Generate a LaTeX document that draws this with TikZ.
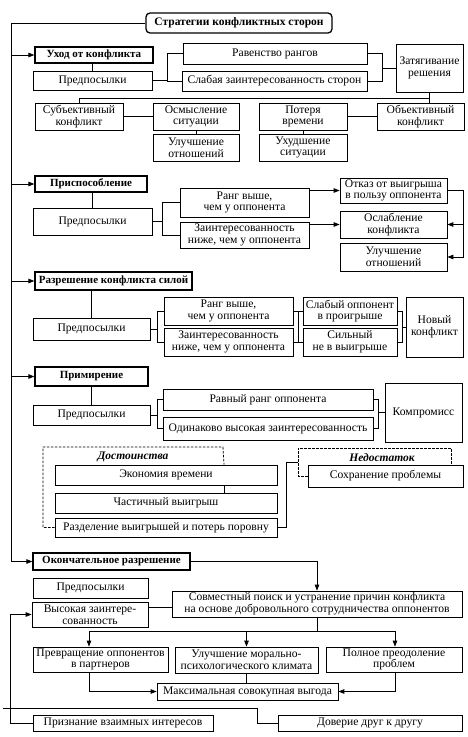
\documentclass[tikz,border=0pt]{standalone}
\usepackage{fontspec}
\setmainfont{Liberation Serif}
\usetikzlibrary{arrows.meta}
\newcommand\mybox[7][]{%
 \pgfmathsetmacro\cxx{(#3+#5)/2}%
 \pgfmathsetmacro\cyy{(#4+#6)/2}%
 \pgfmathsetmacro\ww{#5-#3}%
 \pgfmathsetmacro\hh{#6-#4}%
 \node[box,#1,minimum width=\ww pt,minimum height=\hh pt] (#2) at (\cxx,\cyy) {#7};}
\begin{document}
\begin{tikzpicture}[x=1pt,y=-1pt,
 box/.style={draw,line width=0.7pt,inner sep=0.5pt,align=center,font=\fontsize{11.6}{11.8}\selectfont},
 strat/.style={line width=1.2pt,font=\fontsize{11}{11.5}\selectfont\bfseries},
 ttl/.style={line width=1.3pt,rounded corners=4pt,font=\fontsize{11.5}{12}\selectfont\bfseries},
 ln/.style={line width=0.8pt},
 ar/.style={line width=0.8pt,-{Triangle[length=6pt,width=4.5pt]}},
 dsh/.style={line width=0.8pt,dash pattern=on 2.5pt off 1.5pt},
 lbl/.style={inner sep=0pt,font=\fontsize{11.5}{12}\selectfont\bfseries\itshape}]
\useasboundingbox (0,0) rectangle (467,737);
\fill[white] (0,0) rectangle (467,737);
% title
\mybox[ttl]{title}{146}{13}{332}{33}{Стратегии конфликтных сторон}
% section 1
\mybox[strat]{uhod}{35}{47}{153}{63}{Уход от конфликта}
\mybox{pred1}{33}{71}{152}{90}{Предпосылки}
\mybox{rav}{183}{43}{367}{64}{Равенство рангов}
\mybox{slab}{182}{71}{367}{91}{Слабая заинтересованность сторон}
\mybox{zat}{396}{44}{463}{92}{Затягивание\\решения}
\mybox{subj}{35}{103}{123}{130}{Субъективный\\конфликт}
\mybox{osm}{153}{103}{239}{130}{Осмысление\\ситуации}
\mybox{ulu1}{153}{134}{239}{161}{Улучшение\\отношений}
\mybox{pot}{259}{103}{347}{130}{Потеря\\времени}
\mybox{obj}{377}{103}{464}{130}{Объективный\\конфликт}
\mybox{uhu}{259}{134}{347}{161}{Ухудшение\\ситуации}
% section 2
\mybox[strat]{prisp}{35}{176}{147}{192}{Приспособление}
\mybox{pred2}{33}{208}{152}{235}{Предпосылки}
\mybox{rang2}{180}{188}{309}{217}{Ранг выше,\\чем у оппонента}
\mybox{zain2}{180}{222}{309}{248}{Заинтересованность\\ниже, чем у оппонента}
\mybox{otk}{340}{178}{447}{203}{Отказ от выигрыша\\в пользу оппонента}
\mybox{osl}{340}{211}{447}{238}{Ослабление\\конфликта}
\mybox{ulu2}{340}{243}{447}{271}{Улучшение\\отношений}
% section 3
\mybox[strat]{razr}{35}{272}{192}{290}{Разрешение конфликта силой}
\mybox{pred3}{33}{318}{150}{340}{Предпосылки}
\mybox{rang3}{164}{297}{293}{325}{Ранг выше,\\чем у оппонента}
\mybox{zain3}{164}{328}{293}{356}{Заинтересованность\\ниже, чем у оппонента}
\mybox{slabop}{303}{297}{397}{325}{Слабый оппонент\\в проигрыше}
\mybox{sil}{303}{328}{397}{356}{Сильный\\не в выигрыше}
\mybox{nov}{406}{297}{463}{357}{Новый\\конфликт}
% section 4
\mybox[strat]{prim}{35}{367}{148}{386}{Примирение}
\mybox{pred4}{33}{405}{150}{425}{Предпосылки}
\mybox{rr}{163}{389}{373}{410}{Равный ранг оппонента}
\mybox{odin}{163}{417}{373}{440}{Одинаково высокая заинтересованность}
\mybox{komp}{385}{383}{462}{442}{Компромисс}
\mybox{econ}{55}{465}{277}{485}{Экономия времени}
\mybox{chast}{55}{493}{277}{513}{Частичный выигрыш}
\mybox{razd}{55}{518}{277}{537}{Разделение выигрышей и потерь поровну}
\mybox{sohr}{308}{465}{463}{487}{Сохранение проблемы}
\node[lbl] (dost) at (133,457) {Достоинства};
\node[lbl] (ned) at (382,458) {Недостаток};
% section 5
\mybox[strat]{okon}{33}{553}{190}{570}{Окончательное разрешение}
\mybox{pred5}{33}{578}{148}{598}{Предпосылки}
\mybox{vys}{32}{602}{148}{627}{Высокая заинтере-\\сованность}
\mybox{sovm}{172}{591}{462}{617}{Совместный поиск и устранение причин конфликта\\на основе добровольного сотрудничества оппонентов}
\mybox{prev}{33}{647}{168}{672}{Превращение оппонентов\\в партнеров}
\mybox{ulm}{175}{647}{318}{673}{Улучшение морально-\\психологического климата}
\mybox{poln}{326}{647}{462}{672}{Полное преодоление\\проблем}
\mybox{max}{157}{683}{338}{700}{Максимальная совокупная выгода}
\mybox{priz}{33}{715}{213}{731}{Признание взаимных интересов}
\mybox{dov}{278}{715}{462}{731}{Доверие друг к другу}
% helper coordinates
\coordinate (L) at (11,0);
\coordinate (tl) at (11,23);
\coordinate (b1) at (167,0);
\coordinate (b2) at (382,0);
\coordinate (h1) at (0,98);
\coordinate (b3) at (162,0);
\coordinate (b4) at (463,0);
\coordinate (b5) at (157,0);
\coordinate (b6) at (298,0);
\coordinate (b7) at (402,0);
\coordinate (b8) at (378,0);
\coordinate (t1) at (224,0);
\coordinate (vx) at (286,0);
\coordinate (nd) at (298,462);
\coordinate (y607) at (0,607);
\coordinate (hb) at (0,631);
\coordinate (xa) at (89,0);
\coordinate (xc) at (395,0);
\coordinate (xl) at (10,0);
\coordinate (s0) at (3,708);
\coordinate (xs) at (257,0);
% main line
\draw[ar] (title.west) -- (tl) |- (okon.west);
\draw[ar] (uhod.west -| L) -- (uhod.west);
\draw[ar] (prisp.west -| L) -- (prisp.west);
\draw[ar] (razr.west -| L) -- (razr.west);
\draw[ar] (prim.west -| L) -- (prim.west);
% section 1 connectors
\draw[ln] (pred1.north) -- (pred1.north |- uhod.south);
\draw[ln] (pred1.east) -- (pred1.east -| b1);
\draw[ln] (rav.west) -| (b1 |- slab.west) -- (slab.west);
\draw[ln] (rav.east) -| (b2 |- slab.east) -- (slab.east);
\draw[ln] (b2 |- zat.west) -- (zat.west);
\draw[ln] (zat.south) -- (zat.south |- obj.north);
\draw[ln] (zat.south |- h1) -| (subj.north);
\draw[ln] (subj.east) -- (osm.west);
\draw[ln] (osm.south) -- (ulu1.north);
\draw[ln] (pot.east) -- (obj.west);
\draw[ln] (pot.south) -- (uhu.north);
% section 2 connectors
\draw[ln] (pred2.north) -- (pred2.north |- prisp.south);
\draw[ln] (pred2.east) -- (pred2.east -| b3);
\draw[ln] (rang2.west) -| (b3 |- zain2.west) -- (zain2.west);
\draw[ar] (otk.west -| rang2.east) -- (otk.west);
\draw[ar] (osl.west -| zain2.east) -- (osl.west);
\draw[ar] (otk.east) -| (b4 |- ulu2.east) -- (ulu2.east);
\draw[ar] (b4 |- osl.east) -- (osl.east);
% section 3 connectors
\draw[ln] (pred3.north) -- (pred3.north |- razr.south);
\draw[ln] (pred3.east) -- (pred3.east -| b5);
\draw[ln] (rang3.west) -| (b5 |- zain3.west) -- (zain3.west);
\draw[ln] (rang3.east) -- (slabop.west);
\draw[ln] (zain3.east) -- (sil.west);
\draw[ln] (b6 |- rang3.east) -- (b6 |- zain3.east);
\draw[ln] (slabop.east) -| (b7 |- sil.east) -- (sil.east);
\draw[ln] (b7 |- nov.west) -- (nov.west);
% section 4 connectors
\draw[ln] (pred4.north) -- (pred4.north |- prim.south);
\draw[ln] (pred4.east) -- (pred4.east -| b5);
\draw[ln] (rr.west) -| (b5 |- odin.west) -- (odin.west);
\draw[ln] (rr.east) -| (b8 |- odin.east) -- (odin.east);
\draw[ln] (b8 |- komp.west) -- (komp.west);
\draw[dsh] (razd.west) -- (43,527.5) -- (43,447) -- (223,447) -- (t1 |- econ.north);
\draw[ln] (t1 |- econ.south) -- (t1 |- chast.north);
\draw[dsh] (sohr.west) -- (298,476) -- (298,448) -- (451,448) -- (451,465);
\draw[ln] (razd.east) -| (vx |- nd) -- (nd);
% section 5 connectors
\draw[ar] (okon.east) -| (sovm.north);
\draw[ln] (vys.east |- y607) -- (sovm.west |- y607);
\draw[ln] (sovm.south) -- (sovm.south |- hb);
\draw[ln] (xa |- hb) -- (xc |- hb);
\draw[ar] (xa |- hb) -- (xa |- prev.north);
\draw[ar] (ulm.north |- hb) -- (ulm.north);
\draw[ar] (xc |- hb) -- (xc |- poln.north);
\draw[ar] (xa |- prev.south) |- (max.west);
\draw[ar] (xc |- poln.south) |- (max.east);
\draw[ln] (ulm.south) -- (ulm.south |- max.north);
\draw[ar] (priz.west) -| (xl |- vys.west) -- (vys.west);
\draw[ln] (s0) -| (xs |- dov.west) -- (dov.west);
\end{tikzpicture}
\end{document}
